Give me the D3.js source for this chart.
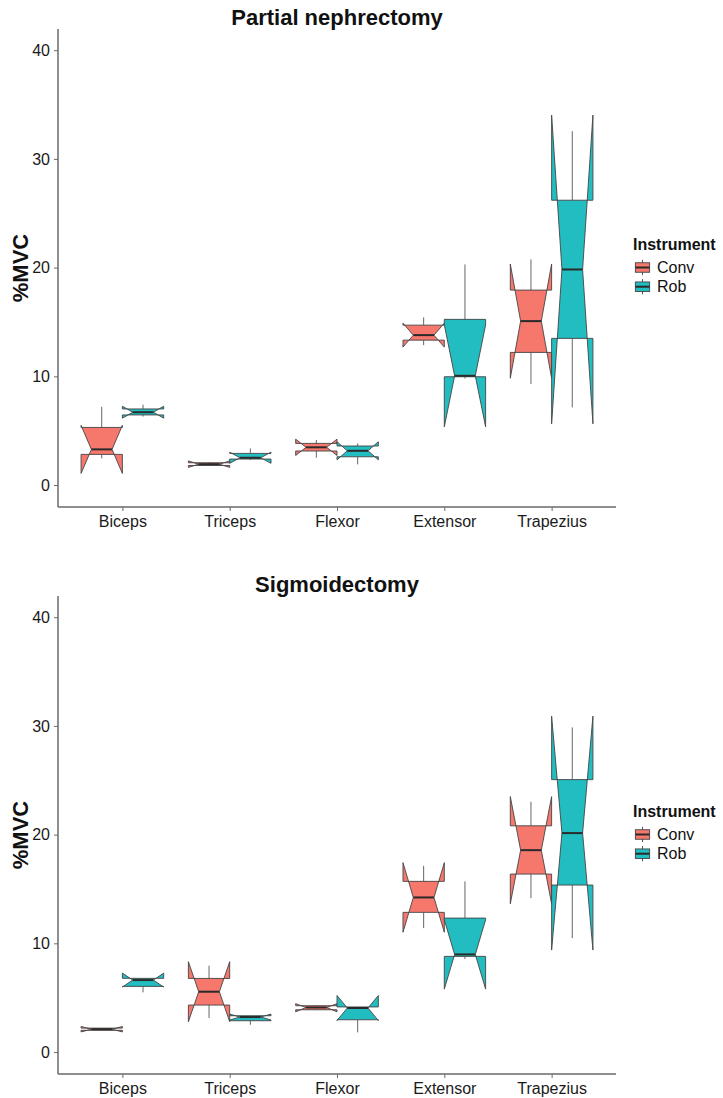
<!DOCTYPE html>
<html>
<head>
<meta charset="utf-8">
<script src="https://cdn.jsdelivr.net/npm/d3@7"></script>
<style>
  body { margin: 0; background: #fff; }
  svg { font-family: "Liberation Sans", Arial, sans-serif; }
</style>
</head>
<body>
<script>

var muscles = ['Biceps', 'Triceps', 'Flexor', 'Extensor', 'Trapezius'];
var instruments = ['Conv', 'Rob'];
var yTicks = [0, 10, 20, 30, 40];
var titles = ['Partial nephrectomy', 'Sigmoidectomy'];

// one row per muscle: [whiskerLo, lower, median, upper, whiskerHi, notchLo, notchHi]
var nephConv = [
    [2.45, 2.82, 3.28, 5.30, 7.20, 1.07, 5.49],
    [1.75, 1.80, 1.92, 2.05, 2.10, 1.62, 2.22],
    [2.51, 3.13, 3.47, 3.83, 4.14, 2.72, 4.22],
    [12.87, 13.33, 13.79, 14.71, 15.42, 12.69, 14.89],
    [9.29, 12.20, 15.08, 17.93, 20.75, 9.83, 20.33]
];
var nephRob = [
    [6.30, 6.45, 6.70, 7.00, 7.40, 6.15, 7.25],
    [2.30, 2.39, 2.51, 2.91, 3.37, 2.00, 3.02],
    [1.90, 2.60, 3.15, 3.59, 3.83, 2.32, 3.98],
    [9.80, 9.96, 10.05, 15.24, 20.29, 5.36, 14.74],
    [7.14, 13.49, 19.83, 26.20, 32.55, 5.63, 34.03]
];
var sigConv = [
    [2.00, 2.00, 2.10, 2.20, 2.20, 1.85, 2.35],
    [3.13, 4.32, 5.55, 6.77, 7.94, 2.79, 8.31],
    [3.85, 3.89, 4.10, 4.26, 4.30, 3.70, 4.45],
    [11.40, 12.85, 14.22, 15.70, 17.13, 11.02, 17.42],
    [14.16, 16.37, 18.57, 20.81, 23.02, 13.64, 23.50]
];
var sigRob = [
    [5.49, 6.04, 6.62, 6.78, 6.80, 5.98, 7.26],
    [2.51, 2.88, 3.22, 3.34, 3.34, 2.95, 3.49],
    [1.81, 2.97, 4.05, 4.15, 4.15, 2.90, 5.20],
    [8.55, 8.80, 8.98, 12.32, 15.70, 5.79, 12.17],
    [10.48, 15.36, 20.14, 25.06, 29.86, 9.38, 30.90]
];

var colors = {Conv: '#F6786D', Rob: '#22BDC1'};

var W = 723, H = 1098;
var panelShift = 567;
var plotL = 58, plotR = 616, plotT = 29, plotB = 507;

var svg = d3.select('body').append('svg')
    .attr('width', W)
    .attr('height', H);

var x = d3.scalePoint()
    .domain(muscles)
    .range([plotL, plotR])
    .padding(0.6);

var step = x.step();
var boxW = step * 0.385;

var xg = d3.scaleBand()
    .domain(instruments)
    .range([-boxW, boxW]);

var y = d3.scaleLinear()
    .domain([-2.02, 41.95])
    .range([plotB, plotT]);

drawPanel(0, titles[0], nephConv, nephRob);
drawPanel(1, titles[1], sigConv, sigRob);

function drawPanel(idx, title, conv, rob) {
    var g = svg.append('g')
        .attr('transform', 'translate(0,' + idx * panelShift + ')');

    // title
    g.append('text')
        .attr('x', (plotL + plotR) / 2)
        .attr('y', 25)
        .attr('text-anchor', 'middle')
        .style('font-size', '22px')
        .style('font-weight', 'bold')
        .attr('fill', '#111')
        .text(title);

    // axes
    var yAxis = g.append('g')
        .attr('transform', 'translate(' + plotL + ',0)')
        .call(d3.axisLeft(y).tickValues(yTicks).tickSize(4).tickPadding(4));
    yAxis.select('.domain').attr('d', 'M0,' + plotT + 'V' + plotB);

    var xAxis = g.append('g')
        .attr('transform', 'translate(0,' + plotB + ')')
        .call(d3.axisBottom(x).tickSize(4).tickPadding(5));
    xAxis.select('.domain').attr('d', 'M' + plotL + ',0H' + plotR);

    g.selectAll('.domain')
        .attr('stroke', '#6a6a6a')
        .attr('stroke-width', 1.5);
    g.selectAll('.tick line')
        .attr('stroke', '#6a6a6a')
        .attr('stroke-width', 1);
    g.selectAll('.tick text')
        .attr('fill', '#1a1a1a')
        .style('font-size', '16px')
        .style('font-family', '"Liberation Sans", Arial, sans-serif');

    // y label
    g.append('text')
        .attr('transform', 'translate(28,' + (plotT + plotB) / 2 + ') rotate(-90)')
        .attr('text-anchor', 'middle')
        .style('font-size', '22px')
        .style('font-weight', 'bold')
        .attr('fill', '#111')
        .text('%MVC');

    // boxes
    var rows = [];
    muscles.forEach(function(m, i) {
        rows.push({muscle: m, inst: 'Conv', s: conv[i]});
        rows.push({muscle: m, inst: 'Rob', s: rob[i]});
    });

    var box = g.selectAll('g.box')
        .data(rows)
        .enter()
        .append('g')
        .attr('class', 'box');

    box.each(function(d) {
        var b = d3.select(this);
        var s = d.s;
        var x0 = x(d.muscle) + xg(d.inst);
        var x1 = x0 + xg.bandwidth();
        var xc = (x0 + x1) / 2;
        var ind = (x1 - x0) * 0.25;

        // whiskers
        b.append('line')
            .attr('x1', xc).attr('x2', xc)
            .attr('y1', y(s[3])).attr('y2', y(s[4]))
            .attr('stroke', '#666').attr('stroke-width', 1);
        b.append('line')
            .attr('x1', xc).attr('x2', xc)
            .attr('y1', y(s[1])).attr('y2', y(s[0]))
            .attr('stroke', '#666').attr('stroke-width', 1);

        // notched box, same outline order as ggplot2
        var pts = [
            [x0, y(s[3])], [x0, y(s[6])], [x0 + ind, y(s[2])], [x0, y(s[5])], [x0, y(s[1])],
            [x1, y(s[1])], [x1, y(s[5])], [x1 - ind, y(s[2])], [x1, y(s[6])], [x1, y(s[3])]
        ];
        b.append('path')
            .attr('d', 'M' + pts.join('L') + 'Z')
            .attr('fill', colors[d.inst])
            .attr('stroke', '#444')
            .attr('stroke-width', 0.9)
            .attr('stroke-linejoin', 'miter');

        // median
        b.append('line')
            .attr('x1', x0 + ind).attr('x2', x1 - ind)
            .attr('y1', y(s[2])).attr('y2', y(s[2]))
            .attr('stroke', '#2a2a2a').attr('stroke-width', 2);
    });

    // legend
    var lg = g.append('g')
        .attr('transform', 'translate(633,250)');
    lg.append('text')
        .attr('x', 0)
        .attr('y', 0)
        .style('font-size', '16px')
        .style('font-weight', 'bold')
        .attr('fill', '#111')
        .text('Instrument');

    var key = lg.selectAll('g.key')
        .data(instruments)
        .enter()
        .append('g')
        .attr('class', 'key')
        .attr('transform', function(d, i) { return 'translate(0,' + (8 + i * 19.2) + ')'; });

    var ks = 19;
    key.append('line')
        .attr('x1', ks / 2).attr('x2', ks / 2)
        .attr('y1', ks * 0.1).attr('y2', ks * 0.9)
        .attr('stroke', '#555');
    key.append('rect')
        .attr('x', ks * 0.125)
        .attr('y', ks * 0.25)
        .attr('width', ks * 0.75)
        .attr('height', ks * 0.5)
        .attr('fill', function(d) { return colors[d]; })
        .attr('stroke', '#444')
        .attr('stroke-width', 0.9);
    key.append('line')
        .attr('x1', ks * 0.125).attr('x2', ks * 0.875)
        .attr('y1', ks / 2).attr('y2', ks / 2)
        .attr('stroke', '#2a2a2a')
        .attr('stroke-width', 2);
    key.append('text')
        .attr('x', 24)
        .attr('y', ks / 2 + 5.5)
        .style('font-size', '16px')
        .attr('fill', '#111')
        .text(function(d) { return d; });
}
</script>
</body>
</html>
